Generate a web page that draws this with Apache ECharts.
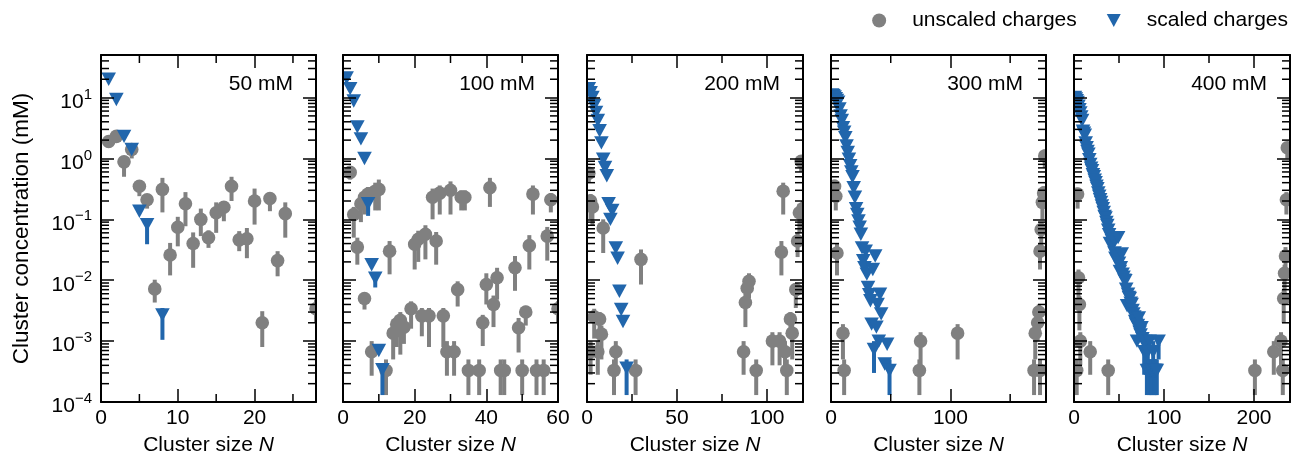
<!DOCTYPE html>
<html><head><meta charset="utf-8">
<script src="https://cdn.jsdelivr.net/npm/echarts@6/dist/echarts.min.js"></script>
<style>html,body{margin:0;padding:0;background:#fff}#c{width:1294px;height:461px}</style>
</head><body><div id="c"></div>
<script>
// ---------------- data ----------------
const panelLabels = ['50 mM', '100 mM', '200 mM', '300 mM', '400 mM'];
const xMaxes = [28, 60, 120, 180, 240];
const xIntervals = [10, 20, 50, 100, 100];
const xMinorTickValues = [[5, 15, 25], [10, 30, 50], [25, 75], [50, 150], [50, 150]];
const yMin = 1e-4, yMax = 50;
const yDecades = [1e-4, 1e-3, 1e-2, 1e-1, 1, 10];
const yMinorMultipliers = [2, 3, 4, 5, 6, 7, 8, 9];
const legendNames = ['unscaled charges', 'scaled charges'];

// [N, concentration, lower, upper]
const unscaled50 = [[1,1.9,1.5,2.3],[2,2.3,1.9,2.7],[3,0.88,0.5,1.1],[4,1.4,1.0,1.6],[5,0.35,0.24,0.42],[6,0.21,0.15,0.26],[7,0.0072,0.0043,0.0102],[8,0.31,0.13,0.48],[9,0.026,0.012,0.041],[10,0.074,0.036,0.11],[11,0.18,0.077,0.28],[12,0.04,0.016,0.061],[13,0.1,0.053,0.15],[14,0.05,0.034,0.066],[15,0.128,0.06,0.19],[16,0.158,0.093,0.19],[17,0.35,0.2,0.5],[18,0.046,0.03,0.064],[19,0.048,0.023,0.072],[20,0.2,0.082,0.32],[21,0.002,0.0008,0.0031],[22,0.22,0.136,0.27],[23,0.021,0.0116,0.03],[24,0.124,0.05,0.19],[28,0.0034,0.002,0.0048]];
const scaled50 = [[1,20],[2,9.3],[3,2.3],[4,1.4],[5,0.136],[6,0.082,0.039,0.1],[8,0.0027,0.00105,0.0035]];

const unscaled100 = [[2,0.59,0.45,0.75],[3,0.12,0.05,0.16],[4,0.035,0.018,0.05],[5,0.18,0.09,0.24],[6,0.005,0.0033,0.0062],[6,0.23,0.12,0.3],[7,0.26,0.13,0.34],[8,6.7e-4,2.7e-4,1e-3],[9,0.29,0.14,0.4],[10,0.31,0.14,0.45],[12,3.3e-4,1.3e-4,5e-4],[13,0.03,0.0125,0.044],[14,1.35e-3,5e-4,1.9e-3],[15,1.9e-3,8e-4,2.6e-3],[16,2.2e-3,6e-4,3e-3],[17,1.7e-3,9e-4,2.3e-3],[19,3.4e-3,1.6e-3,4.5e-3],[20,0.039,0.015,0.05],[21,0.047,0.02,0.065],[22,2.6e-3,1.2e-3,3.5e-3],[23,0.057,0.022,0.08],[24,2.6e-3,8e-4,3.5e-3],[25,0.23,0.1,0.32],[26,0.044,0.018,0.062],[27,0.27,0.12,0.36],[28,2.6e-3,8e-4,3.5e-3],[29,6.7e-4,2.7e-4,1e-3],[30,0.3,0.12,0.42],[31,6.7e-4,2.7e-4,1e-3],[32,0.007,0.0037,0.0096],[33,0.23,0.14,0.3],[34,0.23,0.14,0.3],[35,3.3e-4,1.3e-4,5e-4],[38,3.3e-4,1.3e-4,5e-4],[39,0.002,8.3e-4,2.7e-3],[40,0.0085,0.004,0.013],[41,0.33,0.16,0.48],[42,0.004,0.0017,0.0056],[43,0.011,0.0048,0.016],[44,3.3e-4,1.3e-4,5e-4],[45,3.3e-4,1.3e-4,5e-4],[48,0.016,0.0067,0.025],[49,0.00166,6.5e-4,2.4e-3],[50,3.3e-4,1.3e-4,5e-4],[51,0.003,0.0018,0.0038],[52,0.037,0.015,0.055],[53,0.26,0.12,0.36],[54,3.3e-4,1.3e-4,5e-4],[56,3.3e-4,1.3e-4,5e-4],[57,0.053,0.021,0.075],[58,0.21,0.13,0.27],[60,0.0034,0.002,0.0045]];
const scaled100 = [[1,21],[2,14],[3,8.8],[4,3.3],[5,2.1],[6,1.0],[7,0.18,0.114,0.21],[8,0.018],[9,0.0108,0.0076,0.0125],[10,7e-4],[11,3.4e-4,1.3e-4,4.2e-4]];

const unscaled200 = [[1,0.57,0.4,0.7],[2,0.2,0.1,0.26],[3,0.16,0.08,0.2],[4,0.0025,0.0011,0.0034],[2,6.7e-4,2.8e-4,1e-3],[6,6.7e-4,2.8e-4,1e-3],[7,0.0023,0.001,0.003],[8,0.0013,5e-4,1.8e-3],[9,0.072,0.028,0.1],[15,3.3e-4,1.3e-4,5e-4],[16,6.7e-4,2.8e-4,1e-3],[27,3.3e-4,1.3e-4,5e-4],[30,0.022,0.0085,0.032],[87,6.7e-4,2.8e-4,1e-3],[88,0.0043,0.0017,0.006],[89,0.0074,0.0035,0.01],[90,0.0096,0.005,0.013],[94,3.3e-4,1.3e-4,5e-4],[103,1e-3,4e-4,1.4e-3],[107,1e-3,4e-4,1.4e-3],[108,0.029,0.012,0.044],[109,0.29,0.12,0.4],[110,6.7e-4,2.8e-4,1e-3],[111,3.3e-4,1.3e-4,5e-4],[113,0.0023,0.0012,0.003],[114,0.00135,5e-4,0.0019],[116,0.007,0.0035,0.009],[117,0.044,0.024,0.06],[118,0.128,0.06,0.18],[119,0.9,0.6,1.1],[120,0.15,0.07,0.2]];
const scaled200 = [[1,14],[2,12],[3,10],[4,7.4],[5,5.7],[6,4.2],[7,2.85],[8,1.8],[9,0.97],[10,0.71],[11,0.52],[12,0.18],[13,0.1],[14,0.14],[16,0.034],[17,0.023],[18,0.0066],[19,0.0033],[20,0.0021],[22,3.6e-4,1.3e-4,5e-4]];

const unscaled300 = [[3,0.35,0.2,0.45],[4,0.24,0.14,0.3],[5,0.028,0.012,0.04],[10,0.00135,5e-4,0.0019],[11,3.3e-4,1.3e-4,5e-4],[74,3.3e-4,1.3e-4,5e-4],[75,1e-3,4e-4,1.4e-3],[106,0.00135,5e-4,0.0019],[170,3.3e-4,1.3e-4,5e-4],[171,0.00135,5e-4,0.0019],[173,0.002,0.001,0.0028],[174,0.003,0.0015,0.004],[175,0.03,0.015,0.04],[175,3.3e-4,1.3e-4,5e-4],[176,0.068,0.03,0.09],[177,0.19,0.1,0.25],[178,0.27,0.15,0.35],[179,1.1,0.7,1.4]];
const scaled300 = [[1,11],[2,10.7],[3,10.2],[4,9.6],[5,9],[6,8.4],[7,6.5],[8,5],[9,4.2],[10,3.2],[11,2.7],[12,2.2],[13,1.6],[14,1.25],[15,0.97],[16,0.76],[17,0.6],[18,0.5],[19,0.33],[20,0.23],[21,0.15],[22,0.12],[23,0.094],[24,0.074],[25,0.057],[26,0.034],[27,0.021],[28,0.016],[29,0.03],[30,0.0126],[31,0.0076],[32,0.0058],[33,0.0046],[34,0.0019],[35,0.015],[36,7.3e-4,3e-4,1e-3],[37,0.025],[38,0.0017],[39,0.004],[40,0.001],[41,0.0059],[42,0.0028],[45,4.2e-4],[47,8.9e-4],[49,3.3e-4,1.3e-4,5e-4]];

const unscaled400 = [[3,3.3e-4,1.3e-4,5e-4],[4,0.26,0.15,0.33],[5,0.011,0.005,0.015],[6,0.004,0.0015,0.0055],[7,0.001,4e-4,0.0014],[18,6.7e-4,2.8e-4,1e-3],[38,3.3e-4,1.3e-4,5e-4],[201,3.3e-4,1.3e-4,5e-4],[222,6.7e-4,2.8e-4,1e-3],[230,1e-3,4e-4,1.4e-3],[232,3.3e-4,1.3e-4,5e-4],[233,0.005,0.002,0.007],[234,0.013,0.006,0.018],[235,0.025,0.012,0.035],[236,0.21,0.12,0.28],[237,1.5,1.0,1.8]];
const scaled400 = [[1,10],[2,9.5],[3,8.9],[4,8.3],[5,7.2],[6,6.3],[7,5.6],[8,4.8],[9,4.2],[10,2.8],[11,2.6],[12,2.4],[13,1.8],[14,1.5],[15,1.3],[16,1.17],[17,0.95],[18,0.8],[19,0.69],[20,0.63],[21,0.54],[22,0.5],[23,0.44],[24,0.4],[25,0.35],[26,0.32],[27,0.27],[28,0.24],[29,0.21],[30,0.19],[31,0.166],[32,0.15],[33,0.13],[34,0.112],[35,0.105],[36,0.089],[37,0.079],[38,0.066],[39,0.056],[40,0.04],[41,0.05],[42,0.045],[43,0.038],[44,0.047],[45,0.028],[46,0.023],[47,0.025],[48,0.021],[49,0.05],[50,0.019],[51,0.014],[52,0.016],[53,0.027],[54,0.0126],[55,0.0112],[56,0.01],[57,0.0098],[58,0.0071],[59,0.0038],[60,0.0059],[61,0.0052],[62,0.005],[63,0.0042],[64,0.004],[65,0.0032],[66,0.0028],[67,0.0025],[68,0.0021],[69,0.0019],[70,0.001],[71,0.0018],[72,0.0024],[73,0.0014],[74,0.00126],[75,0.00166],[76,0.0011],[77,0.001],[78,6.7e-4,2.8e-4,1e-3],[79,0.001],[80,6.7e-4,2.8e-4,1e-3],[81,3.3e-4,1.3e-4,5e-4],[82,6.7e-4,2.8e-4,1e-3],[83,3.3e-4,1.3e-4,5e-4],[84,0.001],[85,3.3e-4,1.3e-4,5e-4],[86,3.3e-4,1.3e-4,5e-4],[87,3.3e-4,1.3e-4,5e-4],[88,6.7e-4,2.8e-4,1e-3],[89,3.3e-4,1.3e-4,5e-4],[90,3.3e-4,1.3e-4,5e-4],[91,3.3e-4,1.3e-4,5e-4],[92,3.3e-4,1.3e-4,5e-4],[94,0.001,5e-4,0.0012]];

const unscaledSets = [unscaled50, unscaled100, unscaled200, unscaled300, unscaled400];
const scaledSets = [scaled50, scaled100, scaled200, scaled300, scaled400];

// ---------------- layout / style ----------------
const FONT = "'Liberation Sans', Arial, Helvetica, sans-serif";
const GRAY = '#808080', BLUE = '#2166ac';
const gridLefts = [101, 343, 587, 831, 1074];
const gridWidths = [215, 215, 216, 215, 216];
const GRID_TOP = 55, GRID_H = 347;
const MAJOR_LEN = 13, MINOR_LEN = 8, TICK_W = 1.5, AXIS_W = 2;

const yMinorTicks = [];
yDecades.forEach(d => yMinorMultipliers.forEach(m => { const v = +(d * m).toPrecision(3); if (v < yMax) yMinorTicks.push(v); }));

function yMinorRender(params, api) {
  const cs = params.coordSys; const y = api.coord([0, api.value(1)])[1];
  return {type: 'group', children: [
    {type: 'line', shape: {x1: cs.x, y1: y, x2: cs.x + MINOR_LEN, y2: y}, style: {stroke: '#000', lineWidth: TICK_W}},
    {type: 'line', shape: {x1: cs.x + cs.width - MINOR_LEN, y1: y, x2: cs.x + cs.width, y2: y}, style: {stroke: '#000', lineWidth: TICK_W}}
  ]};
}
function xMinorRender(params, api) {
  const cs = params.coordSys; const x = api.coord([api.value(0), 1])[0];
  return {type: 'group', children: [
    {type: 'line', shape: {x1: x, y1: cs.y + cs.height, x2: x, y2: cs.y + cs.height - MINOR_LEN}, style: {stroke: '#000', lineWidth: TICK_W}},
    {type: 'line', shape: {x1: x, y1: cs.y, x2: x, y2: cs.y + MINOR_LEN}, style: {stroke: '#000', lineWidth: TICK_W}}
  ]};
}
function barRender(color) {
  return function (params, api) {
    const lo = api.value(2), hi = api.value(3);
    if (!(lo > 0) || !(hi > 0)) return null;
    const p1 = api.coord([api.value(0), lo]), p2 = api.coord([api.value(0), hi]);
    return {type: 'line', shape: {x1: p1[0], y1: p1[1], x2: p2[0], y2: p2[1]}, style: {stroke: color, lineWidth: 4}};
  };
}
function circleRender(params, api) {
  const p = api.coord([api.value(0), api.value(1)]);
  return {type: 'circle', shape: {cx: p[0], cy: p[1], r: 6.8}, style: {fill: GRAY}};
}
function triRender(params, api) {
  const p = api.coord([api.value(0), api.value(1)]);
  return {type: 'polygon', shape: {points: [[p[0] - 7.3, p[1] - 6.7], [p[0] + 7.3, p[1] - 6.7], [p[0], p[1] + 6.7]]}, style: {fill: BLUE}};
}
function yLabel(v) {
  const e = Math.log10(v), r = Math.round(e);
  if (Math.abs(e - r) > 1e-6) return '';
  return '{b|10}{s|' + (r < 0 ? '\u2212' : '') + Math.abs(r) + '}';
}

const grids = [], xAxes = [], yAxes = [], series = [], graphics = [];
const axisLine = {show: true, onZero: false, lineStyle: {color: '#000', width: AXIS_W}};
const axisTick = {show: true, inside: true, length: MAJOR_LEN, lineStyle: {color: '#000', width: TICK_W}};

panelLabels.forEach((label, i) => {
  grids.push({left: gridLefts[i], top: GRID_TOP, width: gridWidths[i], height: GRID_H});
  const iv = xIntervals[i];
  xAxes.push({type: 'value', gridIndex: i, min: 0, max: xMaxes[i], interval: iv, position: 'bottom', z: 10,
    axisLine, axisTick, splitLine: {show: false},
    axisLabel: {fontSize: 21, color: '#000', fontFamily: FONT, margin: 6,
      formatter: v => (Math.abs(v / iv - Math.round(v / iv)) < 1e-9 ? String(v) : '')},
    name: 'Cluster size {i|N}', nameLocation: 'middle', nameGap: 33,
    nameTextStyle: {fontSize: 21, color: '#000', fontFamily: FONT, rich: {i: {fontSize: 21, fontStyle: 'italic', color: '#000', fontFamily: FONT}}}});
  xAxes.push({type: 'value', gridIndex: i, min: 0, max: xMaxes[i], interval: iv, position: 'top', z: 10,
    axisLine, axisTick, splitLine: {show: false}, axisLabel: {show: false}});
  yAxes.push({type: 'log', logBase: 10, gridIndex: i, min: yMin, max: yMax, position: 'left', z: 10,
    axisLine, axisTick, splitLine: {show: false},
    axisLabel: {show: i === 0, margin: 9, formatter: yLabel,
      rich: {b: {fontSize: 21, color: '#000', fontFamily: FONT, lineHeight: 21, padding: [9, 0, 0, 0]},
             s: {fontSize: 15, color: '#000', fontFamily: FONT, lineHeight: 15, verticalAlign: 'top'}}},
    name: i === 0 ? 'Cluster concentration (mM)' : '', nameLocation: 'middle', nameGap: 68,
    nameTextStyle: {fontSize: 22.5, color: '#000', fontFamily: FONT}});
  yAxes.push({type: 'log', logBase: 10, gridIndex: i, min: yMin, max: yMax, position: 'right', z: 10,
    axisLine, axisTick, splitLine: {show: false}, axisLabel: {show: false}});

  const ax = {xAxisIndex: 2 * i, yAxisIndex: 2 * i};
  series.push({type: 'custom', ...ax, silent: true, clip: false, z: 10, data: yMinorTicks.map(v => [0, v]), renderItem: yMinorRender});
  series.push({type: 'custom', ...ax, silent: true, clip: false, z: 10, data: xMinorTickValues[i].map(v => [v, 1]), renderItem: xMinorRender});
  series.push({type: 'custom', ...ax, silent: true, clip: true, z: 2, dimensions: ['N', 'c', 'lo', 'hi'], encode: {x: 0, y: 1},
    data: unscaledSets[i], renderItem: barRender(GRAY)});
  series.push({type: 'custom', ...ax, name: legendNames[0], clip: true, z: 3, dimensions: ['N', 'c', 'lo', 'hi'], encode: {x: 0, y: 1},
    itemStyle: {color: GRAY}, data: unscaledSets[i], renderItem: circleRender});
  series.push({type: 'custom', ...ax, silent: true, clip: true, z: 4, dimensions: ['N', 'c', 'lo', 'hi'], encode: {x: 0, y: 1},
    data: scaledSets[i], renderItem: barRender(BLUE)});
  series.push({type: 'custom', ...ax, name: legendNames[1], clip: true, z: 5, dimensions: ['N', 'c', 'lo', 'hi'], encode: {x: 0, y: 1},
    itemStyle: {color: BLUE}, data: scaledSets[i], renderItem: triRender});

  graphics.push({type: 'text', x: gridLefts[i] + gridWidths[i] - 23, y: 84, z: 20,
    style: {text: label, fontSize: 21, fontFamily: FONT, fill: '#000', textAlign: 'right', textVerticalAlign: 'middle'}});
});

const chart = echarts.init(document.getElementById('c'), null, {renderer: 'canvas'});
chart.setOption({
  animation: false,
  backgroundColor: '#fff',
  textStyle: {fontFamily: FONT},
  legend: {right: 6, top: 10, padding: 0, itemWidth: 14, itemHeight: 14, itemGap: 30, selectedMode: false,
    data: [{name: legendNames[0], icon: 'circle'}, {name: legendNames[1], icon: 'path://M0,0L16,0L8,15Z'}],
    textStyle: {fontSize: 21, color: '#000', fontFamily: FONT, padding: [0, 0, 0, 21]}},
  grid: grids, xAxis: xAxes, yAxis: yAxes, series, graphic: graphics
});
</script></body></html>
